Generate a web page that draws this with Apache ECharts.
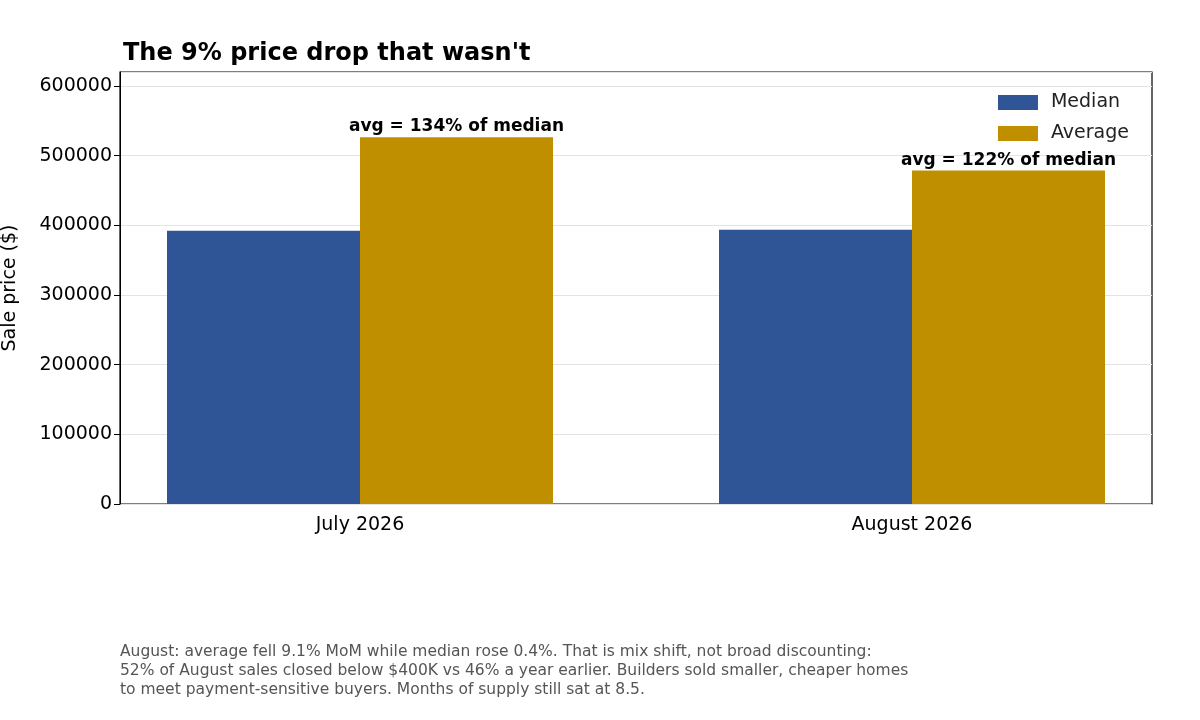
<!DOCTYPE html>
<html>
<head>
<meta charset="utf-8">
<script src="https://cdn.jsdelivr.net/npm/echarts@6/dist/echarts.min.js"></script>
<style>html,body{margin:0;padding:0;background:#fff}#chart{width:1200px;height:720px}</style>
</head>
<body>
<div id="chart"></div>
<script>
const months = ['July 2026', 'August 2026']
const median = [392000, 393500]
const average = [526500, 478500]
const avgLabels = ['avg = 134% of median', 'avg = 122% of median']
const note = 'August: average fell 9.1% MoM while median rose 0.4%. That is mix shift, not broad discounting:\n52% of August sales closed below $400K vs 46% a year earlier. Builders sold smaller, cheaper homes\nto meet payment-sensitive buyers. Months of supply still sat at 8.5.'

const font = 'DejaVu Sans'
const yMax = 620000
const chart = echarts.init(document.getElementById('chart'))
chart.setOption({
  textStyle: { fontFamily: font },
  title: {
    text: "The 9% price drop that wasn't",
    left: 118, top: 37,
    textStyle: { fontSize: 24, fontWeight: 'bold', color: '#000', fontFamily: font }
  },
  legend: {
    right: 66, top: 88, orient: 'vertical', itemGap: 12,
    itemWidth: 40, itemHeight: 15, icon: 'rect',
    textStyle: { fontSize: 19, color: '#222', fontFamily: font, padding: [0, 0, 0, 8] },
    data: ['Median', 'Average']
  },
  graphic: [{
    type: 'text', left: 120, top: 642,
    style: { text: note, fontSize: 15.5, lineHeight: 19, fill: '#555', fontFamily: font }
  }],
  grid: [
    { left: 120, right: 48, top: 72, bottom: 216, show: true, borderColor: '#000', borderWidth: 1.2, outerBoundsMode: 'none', containLabel: false },
    { left: 84, right: 12, top: 72, bottom: 216, outerBoundsMode: 'none', containLabel: false }
  ],
  xAxis: [
    { gridIndex: 0, type: 'value', min: 0, max: 1, show: false },
    {
      gridIndex: 1, type: 'category', data: months,
      axisLine: { show: false },
      axisTick: { alignWithLabel: true, length: 6, lineStyle: { color: '#000' } },
      axisLabel: { fontSize: 19, color: '#000', margin: 12 }
    }
  ],
  yAxis: [
    {
      gridIndex: 0, type: 'value', min: 0, max: yMax, interval: 100000,
      name: 'Sale price ($)', nameLocation: 'middle', nameGap: 100,
      nameTextStyle: { fontSize: 19, color: '#000' },
      axisLine: { show: true, lineStyle: { color: '#000' } },
      axisTick: { show: true, length: 6, lineStyle: { color: '#000' } },
      axisLabel: { fontSize: 19, color: '#000', showMaxLabel: false,
        formatter: v => (v % 100000 === 0 ? String(v) : '') },
      splitLine: { lineStyle: { color: '#e3e3e3' } }
    },
    { gridIndex: 1, type: 'value', min: 0, max: yMax, show: false, splitLine: { show: false } }
  ],
  series: [
    { name: 'Median', type: 'bar', xAxisIndex: 1, yAxisIndex: 1, data: median, barWidth: 193, barGap: '0%',
      itemStyle: { color: '#2f5597' } },
    { name: 'Average', type: 'bar', xAxisIndex: 1, yAxisIndex: 1, data: average, barWidth: 193,
      itemStyle: { color: '#bf8f00' },
      label: { show: true, position: 'top', distance: 2,
        formatter: p => avgLabels[p.dataIndex],
        fontSize: 17, fontWeight: 'bold', color: '#000' } }
  ]
})
</script>
</body>
</html>
